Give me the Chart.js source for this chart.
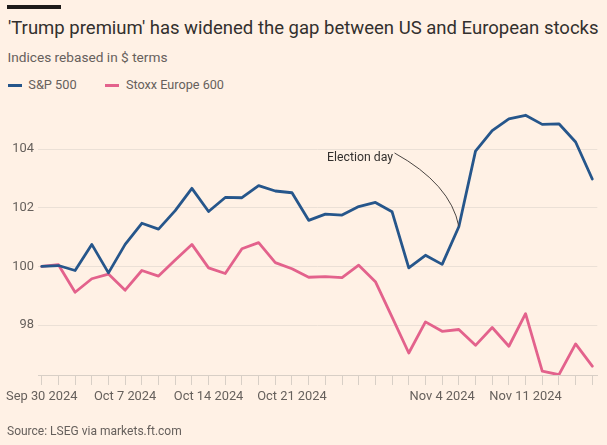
<!DOCTYPE html>
<html>
<head>
<meta charset="utf-8">
<script src="https://cdn.jsdelivr.net/npm/chart.js@4.4.1/dist/chart.umd.min.js"></script>
<style>
  html, body { margin: 0; padding: 0; background: #fff1e5; }
  #wrap { position: relative; width: 607px; height: 445px; overflow: hidden; background: #fff1e5; }
  #chart { position: absolute; left: 0; top: 0; }
  .bar { position: absolute; left: 7px; top: 5px; width: 54px; height: 4px; background: #1d1b1a; }
  .t { position: absolute; white-space: nowrap; line-height: 1; font-family: Roboto, sans-serif; margin: 0; }
  #title { color: #33302e; font-size: 19px; }
  #sub, #src, .leg { color: #66605c; font-size: 13px; }
  .sw { position: absolute; height: 3px; width: 14px; top: 83.5px; }
</style>
</head>
<body>
<div id="wrap">
  <div class="bar"></div>
  <div class="t" id="title">'Trump premium' has widened the gap between US and European stocks</div>
  <div class="t" id="sub">Indices rebased in $ terms</div>
  <div class="sw" style="left:7.5px;background:#26568b"></div>
  <div class="t leg" id="leg1">S&amp;P 500</div>
  <div class="sw" style="left:104.5px;background:#e3628c"></div>
  <div class="t leg" id="leg2">Stoxx Europe 600</div>
  <canvas id="chart" width="607" height="445"></canvas>
  <div class="t" id="src">Source: LSEG via markets.ft.com</div>
</div>
<script>
// ---- data ----
const dates = [
  'Sep 30 2024','Oct 1 2024','Oct 2 2024','Oct 3 2024','Oct 4 2024',
  'Oct 7 2024','Oct 8 2024','Oct 9 2024','Oct 10 2024','Oct 11 2024',
  'Oct 14 2024','Oct 15 2024','Oct 16 2024','Oct 17 2024','Oct 18 2024',
  'Oct 21 2024','Oct 22 2024','Oct 23 2024','Oct 24 2024','Oct 25 2024',
  'Oct 29 2024','Oct 30 2024','Oct 31 2024','Nov 1 2024',
  'Nov 4 2024','Nov 5 2024','Nov 6 2024','Nov 7 2024','Nov 8 2024',
  'Nov 11 2024','Nov 12 2024','Nov 13 2024','Nov 14 2024','Nov 15 2024'
];
const sp500 = [100.00,100.03,99.86,100.75,99.78,100.75,101.47,101.27,101.90,102.66,
  101.87,102.35,102.34,102.75,102.57,102.51,101.57,101.78,101.75,102.04,
  102.18,101.86,99.95,100.38,100.07,101.35,103.93,104.63,105.03,105.15,
  104.84,104.86,104.24,102.98];
const stoxx600 = [100.00,100.06,99.12,99.58,99.74,99.19,99.86,99.67,100.22,100.75,
  99.95,99.76,100.60,100.81,100.13,99.92,99.63,99.65,99.62,100.04,
  99.48,98.27,97.05,98.11,97.79,97.85,97.31,97.92,97.28,98.39,
  96.43,96.31,97.36,96.60];
const xTickLabels = ['Sep 30 2024','Oct 7 2024','Oct 14 2024','Oct 21 2024','Nov 4 2024','Nov 11 2024'];
const yTickValues = [98, 100, 102, 104];
const electionDay = 'Nov 5 2024';
const electionLabel = 'Election day';

// ---- text helpers ----
const FAMILY = 'Roboto';
const mctx = document.createElement('canvas').getContext('2d');
function fitSize(text, target, base) {
  mctx.font = base + 'px ' + FAMILY;
  return base * target / mctx.measureText(text).width;
}
function place(id, left, baseline, targetWidth) {
  const el = document.getElementById(id);
  el.style.left = left + 'px';
  el.style.top = '0px';
  if (targetWidth) {
    const fs = parseFloat(getComputedStyle(el).fontSize);
    const w = el.getBoundingClientRect().width;
    el.style.fontSize = (fs * targetWidth / w).toFixed(2) + 'px';
  }
  const m = document.createElement('span');
  m.style.cssText = 'display:inline-block;width:0;height:0;vertical-align:baseline;';
  el.appendChild(m);
  const b = m.getBoundingClientRect().bottom - el.getBoundingClientRect().top;
  el.style.top = (baseline - b) + 'px';
}
place('title', 8, 34.3, 591);
place('sub', 7.5, 61.7, 160);
place('leg1', 28.3, 89.3, 48.4);
place('leg2', 126, 89.3, 98);
place('src', 7, 435, 175);

const axisFont = fitSize('Sep 30 2024', 71.5, 13);
const annFont = fitSize(electionLabel, 66, 13);

// ---- annotation plugin ----
const electionPlugin = {
  id: 'election',
  afterDatasetsDraw(chart) {
    const { ctx, scales } = chart;
    const i = dates.indexOf(electionDay);
    const ex = scales.x.getPixelForValue(i);
    const ey = scales.y.getPixelForValue(sp500[i]) - 0.5;
    const sx = ex - 64.3, sy = ey - 73.3;
    ctx.save();
    ctx.strokeStyle = '#4a4542';
    ctx.lineWidth = 1;
    ctx.beginPath();
    ctx.moveTo(sx, sy);
    ctx.quadraticCurveTo(ex - 8.3, ey - 42.3, ex, ey);
    ctx.stroke();
    ctx.font = annFont.toFixed(2) + 'px ' + FAMILY;
    ctx.fillStyle = '#33302e';
    ctx.textAlign = 'right';
    ctx.textBaseline = 'alphabetic';
    ctx.fillText(electionLabel, sx - 1.5, sy + 7.7);
    ctx.restore();
  }
};

new Chart(document.getElementById('chart'), {
  type: 'line',
  data: {
    datasets: [
      { label: 'S&P 500', data: sp500.map((v, i) => ({ x: i, y: v })),
        borderColor: '#26568b', borderWidth: 2.8, pointRadius: 0, tension: 0,
        borderJoinStyle: 'round', borderCapStyle: 'round' },
      { label: 'Stoxx Europe 600', data: stoxx600.map((v, i) => ({ x: i, y: v })),
        borderColor: '#e3628c', borderWidth: 2.8, pointRadius: 0, tension: 0,
        borderJoinStyle: 'round', borderCapStyle: 'round' }
    ]
  },
  options: {
    responsive: false,
    animation: false,
    devicePixelRatio: 1,
    layout: { padding: { top: 105, right: 9.7, left: 0, bottom: 0 } },
    plugins: { legend: { display: false }, tooltip: { enabled: false }, title: { display: false } },
    scales: {
      x: {
        type: 'linear', min: -0.2, max: 33.3,
        afterBuildTicks: s => { s.ticks = dates.map((d, i) => ({ value: i })); },
        afterFit: s => { s.height = 70; },
        ticks: {
          autoSkip: false, maxRotation: 0, minRotation: 0, padding: 4,
          color: '#66605c', font: { family: FAMILY, size: axisFont },
          callback: v => (xTickLabels.includes(dates[v]) ? dates[v] : '')
        },
        grid: { drawOnChartArea: false, drawTicks: true, tickLength: 10, color: '#d8cfc6', lineWidth: 1 },
        border: { display: true, color: '#d8cfc6', width: 1 }
      },
      y: {
        min: 96.3, max: 105.5,
        afterBuildTicks: s => { s.ticks = yTickValues.map(v => ({ value: v })); },
        afterFit: s => { s.width = 38.4; },
        ticks: { padding: 4.5, color: '#66605c', font: { family: FAMILY, size: axisFont } },
        grid: { drawTicks: false, color: '#ebe0d6', lineWidth: 1 },
        border: { display: false }
      }
    }
  },
  plugins: [electionPlugin]
});
</script>
</body>
</html>
